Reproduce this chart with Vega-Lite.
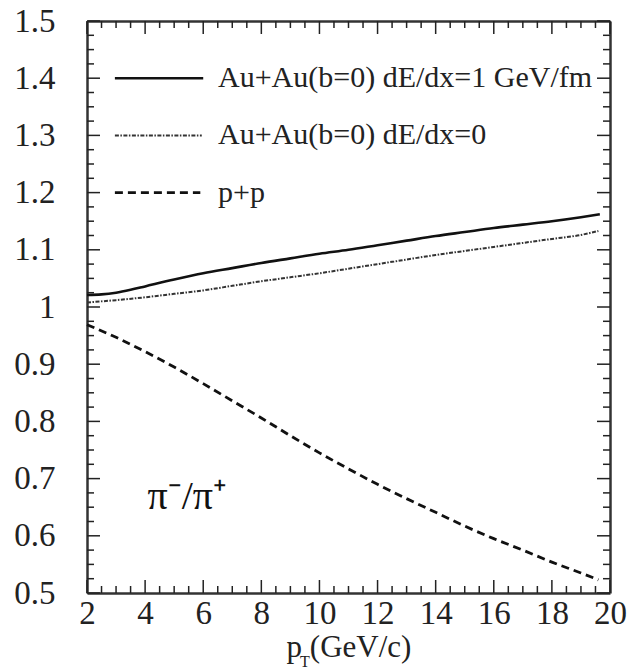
{
  "$schema": "https://vega.github.io/schema/vega-lite/v6.json",
  "autosize": {"type": "none"},
  "padding": {"left": 87, "top": 21, "right": 20, "bottom": 78},
  "width": 523,
  "height": 572,
  "background": "white",
  "config": {
    "view": {"stroke": null},
    "axis": {"grid": false, "labelFont": "Liberation Serif", "titleFont": "Liberation Serif", "labelColor": "#222", "titleColor": "#222", "domainColor": "#333", "domainWidth": 2.5}
  },
  "datasets": {
    "curves": [
      {"s": "a1", "x": 2, "y": 1.021}, {"s": "a1", "x": 2.5, "y": 1.022}, {"s": "a1", "x": 3, "y": 1.025}, {"s": "a1", "x": 3.5, "y": 1.03}, {"s": "a1", "x": 4, "y": 1.036}, {"s": "a1", "x": 5, "y": 1.048}, {"s": "a1", "x": 6, "y": 1.059}, {"s": "a1", "x": 7, "y": 1.068}, {"s": "a1", "x": 8, "y": 1.077}, {"s": "a1", "x": 9, "y": 1.085}, {"s": "a1", "x": 10, "y": 1.093}, {"s": "a1", "x": 11, "y": 1.1}, {"s": "a1", "x": 12, "y": 1.108}, {"s": "a1", "x": 13, "y": 1.116}, {"s": "a1", "x": 14, "y": 1.124}, {"s": "a1", "x": 15, "y": 1.131}, {"s": "a1", "x": 16, "y": 1.138}, {"s": "a1", "x": 17, "y": 1.144}, {"s": "a1", "x": 18, "y": 1.15}, {"s": "a1", "x": 19, "y": 1.157}, {"s": "a1", "x": 19.65, "y": 1.162},
      {"s": "a0", "x": 2, "y": 1.008}, {"s": "a0", "x": 3, "y": 1.012}, {"s": "a0", "x": 4, "y": 1.017}, {"s": "a0", "x": 5, "y": 1.023}, {"s": "a0", "x": 6, "y": 1.029}, {"s": "a0", "x": 7, "y": 1.037}, {"s": "a0", "x": 8, "y": 1.045}, {"s": "a0", "x": 9, "y": 1.052}, {"s": "a0", "x": 10, "y": 1.059}, {"s": "a0", "x": 11, "y": 1.067}, {"s": "a0", "x": 12, "y": 1.075}, {"s": "a0", "x": 13, "y": 1.083}, {"s": "a0", "x": 14, "y": 1.091}, {"s": "a0", "x": 15, "y": 1.098}, {"s": "a0", "x": 16, "y": 1.105}, {"s": "a0", "x": 17, "y": 1.112}, {"s": "a0", "x": 18, "y": 1.119}, {"s": "a0", "x": 19, "y": 1.126}, {"s": "a0", "x": 19.6, "y": 1.133},
      {"s": "pp", "x": 2, "y": 0.969}, {"s": "pp", "x": 3, "y": 0.947}, {"s": "pp", "x": 4, "y": 0.922}, {"s": "pp", "x": 5, "y": 0.895}, {"s": "pp", "x": 6, "y": 0.866}, {"s": "pp", "x": 7, "y": 0.836}, {"s": "pp", "x": 8, "y": 0.806}, {"s": "pp", "x": 9, "y": 0.775}, {"s": "pp", "x": 10, "y": 0.745}, {"s": "pp", "x": 11, "y": 0.717}, {"s": "pp", "x": 12, "y": 0.69}, {"s": "pp", "x": 13, "y": 0.665}, {"s": "pp", "x": 14, "y": 0.641}, {"s": "pp", "x": 15, "y": 0.617}, {"s": "pp", "x": 16, "y": 0.595}, {"s": "pp", "x": 17, "y": 0.575}, {"s": "pp", "x": 18, "y": 0.554}, {"s": "pp", "x": 19, "y": 0.535}, {"s": "pp", "x": 19.6, "y": 0.523},
      {"s": "la1", "x": 2.96, "y": 1.4}, {"s": "la1", "x": 6.0, "y": 1.4},
      {"s": "la0", "x": 2.96, "y": 1.3}, {"s": "la0", "x": 5.95, "y": 1.3},
      {"s": "lpp", "x": 2.96, "y": 1.2}, {"s": "lpp", "x": 5.9, "y": 1.2}
    ],
    "labels": [
      {"t": "Au+Au(b=0) dE/dx=1 GeV/fm", "x": 6.51, "y": 1.4},
      {"t": "Au+Au(b=0) dE/dx=0", "x": 6.51, "y": 1.3},
      {"t": "p+p", "x": 6.51, "y": 1.2}
    ],
    "xticks": [
      {"v": 2, "k": "M"}, {"v": 2.5, "k": "m"}, {"v": 3, "k": "m"}, {"v": 3.5, "k": "m"}, {"v": 4, "k": "M"}, {"v": 4.5, "k": "m"}, {"v": 5, "k": "m"}, {"v": 5.5, "k": "m"}, {"v": 6, "k": "M"}, {"v": 6.5, "k": "m"}, {"v": 7, "k": "m"}, {"v": 7.5, "k": "m"}, {"v": 8, "k": "M"}, {"v": 8.5, "k": "m"}, {"v": 9, "k": "m"}, {"v": 9.5, "k": "m"}, {"v": 10, "k": "M"}, {"v": 10.5, "k": "m"}, {"v": 11, "k": "m"}, {"v": 11.5, "k": "m"}, {"v": 12, "k": "M"}, {"v": 12.5, "k": "m"}, {"v": 13, "k": "m"}, {"v": 13.5, "k": "m"}, {"v": 14, "k": "M"}, {"v": 14.5, "k": "m"}, {"v": 15, "k": "m"}, {"v": 15.5, "k": "m"}, {"v": 16, "k": "M"}, {"v": 16.5, "k": "m"}, {"v": 17, "k": "m"}, {"v": 17.5, "k": "m"}, {"v": 18, "k": "M"}, {"v": 18.5, "k": "m"}, {"v": 19, "k": "m"}, {"v": 19.5, "k": "m"}, {"v": 20, "k": "M"}
    ],
    "yticks": [
      {"v": 0.5, "k": "M"}, {"v": 0.525, "k": "m"}, {"v": 0.55, "k": "m"}, {"v": 0.575, "k": "m"}, {"v": 0.6, "k": "M"}, {"v": 0.625, "k": "m"}, {"v": 0.65, "k": "m"}, {"v": 0.675, "k": "m"}, {"v": 0.7, "k": "M"}, {"v": 0.725, "k": "m"}, {"v": 0.75, "k": "m"}, {"v": 0.775, "k": "m"}, {"v": 0.8, "k": "M"}, {"v": 0.825, "k": "m"}, {"v": 0.85, "k": "m"}, {"v": 0.875, "k": "m"}, {"v": 0.9, "k": "M"}, {"v": 0.925, "k": "m"}, {"v": 0.95, "k": "m"}, {"v": 0.975, "k": "m"}, {"v": 1.0, "k": "M"}, {"v": 1.025, "k": "m"}, {"v": 1.05, "k": "m"}, {"v": 1.075, "k": "m"}, {"v": 1.1, "k": "M"}, {"v": 1.125, "k": "m"}, {"v": 1.15, "k": "m"}, {"v": 1.175, "k": "m"}, {"v": 1.2, "k": "M"}, {"v": 1.225, "k": "m"}, {"v": 1.25, "k": "m"}, {"v": 1.275, "k": "m"}, {"v": 1.3, "k": "M"}, {"v": 1.325, "k": "m"}, {"v": 1.35, "k": "m"}, {"v": 1.375, "k": "m"}, {"v": 1.4, "k": "M"}, {"v": 1.425, "k": "m"}, {"v": 1.45, "k": "m"}, {"v": 1.475, "k": "m"}, {"v": 1.5, "k": "M"}
    ]
  },
  "resolve": {"axis": {"x": "independent", "y": "independent"}},
  "layer": [
    {
      "data": {"name": "curves"},
      "transform": [{"filter": "datum.s == 'a1' || datum.s == 'la1'"}],
      "mark": {"type": "line", "color": "#111", "strokeWidth": 2.6, "interpolate": "monotone"},
      "encoding": {
        "detail": {"field": "s"},
        "x": {"field": "x", "type": "quantitative", "scale": {"domain": [2, 20], "nice": false, "zero": false},
          "axis": {"orient": "bottom", "values": [2, 4, 6, 8, 10, 12, 14, 16, 18, 20], "ticks": false, "labelFontSize": 33, "labelPadding": 4, "labelFlush": false, "title": "p  (GeV/c)", "titleFontSize": 31, "titleFontWeight": "normal", "titlePadding": 2}},
        "y": {"field": "y", "type": "quantitative", "scale": {"domain": [0.5, 1.5], "nice": false, "zero": false},
          "axis": {"orient": "left", "values": [0.5, 0.6, 0.7, 0.8, 0.9, 1, 1.1, 1.2, 1.3, 1.4, 1.5], "format": "~g", "ticks": false, "labelFontSize": 33, "labelPadding": 32, "labelFlush": false, "title": null}}
      }
    },
    {
      "data": {"name": "curves"},
      "transform": [{"filter": "datum.s == 'a0' || datum.s == 'la0'"}],
      "mark": {"type": "line", "color": "#333", "strokeWidth": 2, "strokeDash": [4, 1.5, 1.5, 1.5], "interpolate": "monotone"},
      "encoding": {
        "detail": {"field": "s"},
        "x": {"field": "x", "type": "quantitative",
          "axis": {"orient": "top", "values": [2, 20], "labels": false, "ticks": false, "title": null}},
        "y": {"field": "y", "type": "quantitative",
          "axis": {"orient": "right", "values": [0.5, 1.5], "labels": false, "ticks": false, "title": null}}
      }
    },
    {
      "data": {"name": "curves"},
      "transform": [{"filter": "datum.s == 'pp' || datum.s == 'lpp'"}],
      "mark": {"type": "line", "color": "#111", "strokeWidth": 2.8, "strokeDash": [8, 5], "interpolate": "monotone"},
      "encoding": {
        "detail": {"field": "s"},
        "x": {"field": "x", "type": "quantitative", "axis": null},
        "y": {"field": "y", "type": "quantitative", "axis": null}
      }
    },
    {
      "data": {"name": "xticks"},
      "transform": [{"filter": "datum.k == 'M'"}],
      "mark": {"type": "rule", "color": "#222", "strokeWidth": 1.5},
      "encoding": {
        "x": {"field": "v", "type": "quantitative", "axis": null},
        "y": {"datum": 0.5, "type": "quantitative", "axis": null},
        "y2": {"datum": 0.5227}
      }
    },
    {
      "data": {"name": "xticks"},
      "transform": [{"filter": "datum.k == 'm'"}],
      "mark": {"type": "rule", "color": "#222", "strokeWidth": 1.5},
      "encoding": {
        "x": {"field": "v", "type": "quantitative", "axis": null},
        "y": {"datum": 0.5, "type": "quantitative", "axis": null},
        "y2": {"datum": 0.5122}
      }
    },
    {
      "data": {"name": "xticks"},
      "transform": [{"filter": "datum.k == 'M'"}],
      "mark": {"type": "rule", "color": "#222", "strokeWidth": 1.5},
      "encoding": {
        "x": {"field": "v", "type": "quantitative", "axis": null},
        "y": {"datum": 1.5, "type": "quantitative", "axis": null},
        "y2": {"datum": 1.4773}
      }
    },
    {
      "data": {"name": "xticks"},
      "transform": [{"filter": "datum.k == 'm'"}],
      "mark": {"type": "rule", "color": "#222", "strokeWidth": 1.5},
      "encoding": {
        "x": {"field": "v", "type": "quantitative", "axis": null},
        "y": {"datum": 1.5, "type": "quantitative", "axis": null},
        "y2": {"datum": 1.4878}
      }
    },
    {
      "data": {"name": "yticks"},
      "transform": [{"filter": "datum.k == 'M'"}],
      "mark": {"type": "rule", "color": "#222", "strokeWidth": 1.5},
      "encoding": {
        "y": {"field": "v", "type": "quantitative", "axis": null},
        "x": {"datum": 2, "type": "quantitative", "axis": null},
        "x2": {"datum": 2.447}
      }
    },
    {
      "data": {"name": "yticks"},
      "transform": [{"filter": "datum.k == 'm'"}],
      "mark": {"type": "rule", "color": "#222", "strokeWidth": 1.5},
      "encoding": {
        "y": {"field": "v", "type": "quantitative", "axis": null},
        "x": {"datum": 2, "type": "quantitative", "axis": null},
        "x2": {"datum": 2.241}
      }
    },
    {
      "data": {"name": "yticks"},
      "transform": [{"filter": "datum.k == 'M'"}],
      "mark": {"type": "rule", "color": "#222", "strokeWidth": 1.5},
      "encoding": {
        "y": {"field": "v", "type": "quantitative", "axis": null},
        "x": {"datum": 20, "type": "quantitative", "axis": null},
        "x2": {"datum": 19.553}
      }
    },
    {
      "data": {"name": "yticks"},
      "transform": [{"filter": "datum.k == 'm'"}],
      "mark": {"type": "rule", "color": "#222", "strokeWidth": 1.5},
      "encoding": {
        "y": {"field": "v", "type": "quantitative", "axis": null},
        "x": {"datum": 20, "type": "quantitative", "axis": null},
        "x2": {"datum": 19.759}
      }
    },
    {
      "data": {"name": "labels"},
      "mark": {"type": "text", "align": "left", "baseline": "middle", "font": "Liberation Serif", "fontSize": 30, "color": "#222"},
      "encoding": {
        "text": {"field": "t"},
        "x": {"field": "x", "type": "quantitative", "axis": null},
        "y": {"field": "y", "type": "quantitative", "axis": null}
      }
    },
    {
      "data": {"values": [{"t": "π⁻/π⁺", "x": 5.45, "y": 0.668}]},
      "mark": {"type": "text", "align": "center", "baseline": "middle", "font": "Liberation Serif", "fontSize": 40, "color": "#111"},
      "encoding": {
        "text": {"field": "t"},
        "x": {"field": "x", "type": "quantitative", "axis": null},
        "y": {"field": "y", "type": "quantitative", "axis": null}
      }
    },
    {
      "data": {"values": [{"t": "T", "x": 9.5, "y": 0.5}]},
      "mark": {"type": "text", "align": "center", "baseline": "middle", "font": "Liberation Serif", "fontSize": 16, "color": "#222", "dy": 69, "clip": false},
      "encoding": {
        "text": {"field": "t"},
        "x": {"field": "x", "type": "quantitative", "axis": null},
        "y": {"field": "y", "type": "quantitative", "axis": null}
      }
    }
  ]
}
